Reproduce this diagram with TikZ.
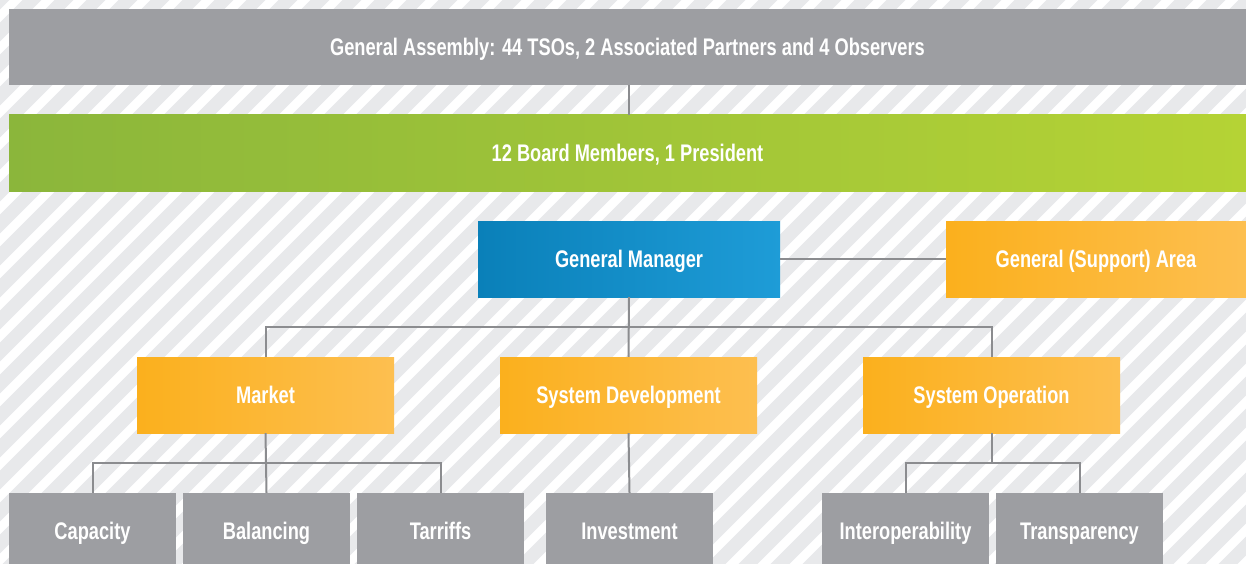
\documentclass[tikz,border=0pt]{standalone}
\usepackage{fontspec}
\setmainfont{Liberation Sans}[FakeStretch=0.76]
\definecolor{bgc}{HTML}{E8E9EB}
\definecolor{boxgray}{HTML}{9D9EA2}
\definecolor{linec}{HTML}{8B8C8F}
\definecolor{greenL}{HTML}{8BB63B}
\definecolor{greenR}{HTML}{B5D335}
\definecolor{blueL}{HTML}{0A80B9}
\definecolor{blueR}{HTML}{1E9CD7}
\definecolor{orangeL}{HTML}{FBB01D}
\definecolor{orangeR}{HTML}{FDBF50}
\tikzset{
  box/.style={rectangle, inner sep=0pt, minimum height=76pt, text=white,
    text height=17pt, text depth=0pt,
    font=\fontsize{24}{26}\selectfont\bfseries},
  graybox/.style={box, fill=boxgray},
  greenbox/.style={box, left color=greenL, right color=greenR},
  bluebox/.style={box, left color=blueL, right color=blueR},
  orangebox/.style={box, left color=orangeL, right color=orangeR},
  conn/.style={draw=linec, line width=2pt},
}
\begin{document}
\begin{tikzpicture}[x=1pt,y=-1pt]
\clip (0,0) rectangle (1246,564);
\fill[bgc] (0,0) rectangle (1246,564);
\foreach \i in {-700,-668,...,1280} \draw[white, line width=9pt] (\i,620) -- ++(720,-720);
% nodes
\node[graybox, minimum width=1237pt] (ga) at (627.5,47) {General Assembly: 44 TSOs, 2 Associated Partners and 4 Observers};
\node[greenbox, minimum width=1237pt] (board) at (627.5,153) {12 Board Members, 1 President};
\node[bluebox, minimum width=302pt] (gm) at (629,259) {General Manager};
\node[orangebox, minimum width=300pt] (sup) at (1096,259) {General (Support) Area};
\node[orangebox, minimum width=257pt] (market) at (265.5,395) {Market};
\node[orangebox, minimum width=257pt] (sysdev) at (628.5,395) {System Development};
\node[orangebox, minimum width=257pt] (sysop) at (991.5,395) {System Operation};
\node[graybox, minimum width=167pt] (capacity) at (92.5,531) {Capacity};
\node[graybox, minimum width=167pt] (balancing) at (266.5,531) {Balancing};
\node[graybox, minimum width=167pt] (tarriffs) at (440.5,531) {Tarriffs};
\node[graybox, minimum width=167pt] (investment) at (629.5,531) {Investment};
\node[graybox, minimum width=167pt] (interop) at (905.5,531) {Interoperability};
\node[graybox, minimum width=167pt] (transp) at (1079.5,531) {Transparency};
% connectors
\coordinate (bus1) at (629,327);
\coordinate (bus2) at (265.5,463);
\draw[conn] (ga.south -| gm.south) -- (board.north -| gm.south);
\draw[conn] (gm.east) -- (sup.west);
\draw[conn] (gm.south) -- (sysdev.north);
\draw[conn] (market.north) |- (bus1) -| (sysop.north);
\draw[conn] (market.south) -- (balancing.north);
\draw[conn] (capacity.north) |- (bus2) -| (tarriffs.north);
\draw[conn] (sysdev.south) -- (investment.north);
\draw[conn] (sysop.south) -- (sysop.south |- bus2);
\draw[conn] (interop.north) |- (sysop.south |- bus2) -| (transp.north);
\end{tikzpicture}
\end{document}
